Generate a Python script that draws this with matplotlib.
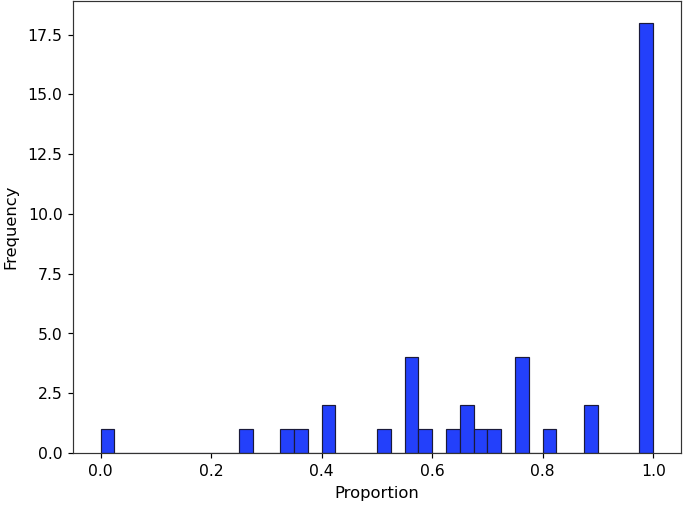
import numpy as np
import matplotlib
matplotlib.use("Agg")
import matplotlib.pyplot as plt

# proportions (40 bins over 0..1)
proportions = (
    [0.0]
    + [0.25]
    + [0.333]
    + [0.36]
    + [0.4, 0.4]
    + [0.5]
    + [0.556, 0.556, 0.56, 0.565]
    + [0.583]
    + [0.636]
    + [0.667, 0.667]
    + [0.684]
    + [0.714]
    + [0.75, 0.75, 0.76, 0.765]
    + [0.8]
    + [0.875, 0.889]
    + [1.0] * 18
)
n_bins = 40

fig = plt.figure(figsize=(6.4, 4.73), dpi=107)
ax = fig.add_axes([0.1066, 0.1047, 0.8876, 0.893])
ax.hist(proportions, bins=n_bins, range=(0, 1), color='#2340fb',
        edgecolor='#1a1a3a', linewidth=0.8)
ax.set_xlabel('Proportion', fontsize=11, labelpad=5)
ax.set_ylabel('Frequency', fontsize=11, labelpad=6)
ax.tick_params(labelsize=10.5)
for s in ax.spines.values():
    s.set_color('#333333')
fig.savefig('out.png', dpi=107)
